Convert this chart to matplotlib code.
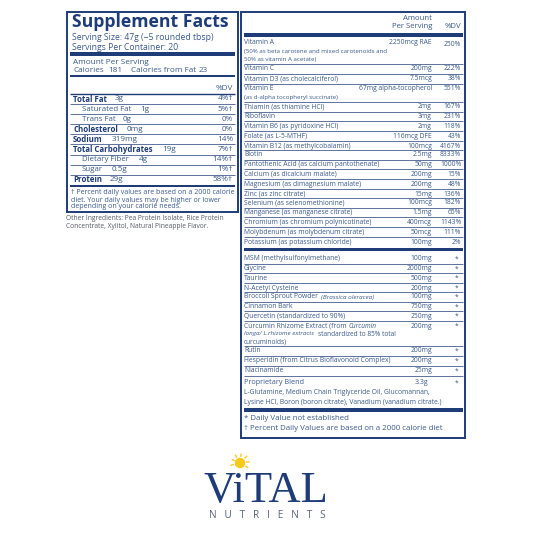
import matplotlib
matplotlib.use("Agg")
import matplotlib.pyplot as plt
import numpy as np
from matplotlib.patches import Rectangle, Circle

NAVY = "#1d3c78"
TXT = "#3b5a8e"
FONT = ["Open Sans", "DejaVu Sans"]

# ---- left panel data ----
macro_names = ["Total Fat", "Saturated Fat", "Trans Fat", "Cholesterol", "Sodium",
               "Total Carbohydrates", "Dietary Fiber", "Sugar", "Protein"]
macro_amounts = ["3g", "1g", "0g", "0mg", "319mg", "19g", "4g", "0.5g", "29g"]
macro_dv = ["4%†", "5%†", "0%", "0%", "14%", "7%†", "14%†", "1%†", "58%†"]
macro_bold = [True, False, False, True, True, True, False, False, True]
macro_amount_x = [115, 140, 123, 127, 112, 162, 139, 112, 110]

# ---- right panel data ----
vit_names = ["Vitamin A", "Vitamin C", "Vitamin D3 (as cholecalciferol)", "Vitamin E",
             "Thiamin (as thiamine HCl)", "Riboflavin", "Vitamin B6 (as pyridoxine HCl)",
             "Folate (as L-5-MTHF)", "Vitamin B12 (as methylcobalamin)", "Biotin",
             "Pantothenic Acid (as calcium pantothenate)", "Calcium (as dicalcium malate)",
             "Magnesium (as dimagnesium malate)", "Zinc (as zinc citrate)",
             "Selenium (as selenomethionine)", "Manganese (as manganese citrate)",
             "Chromium (as chromium polynicotinate)", "Molybdenum (as molybdenum citrate)",
             "Potassium (as potassium chloride)"]
vit_sub = {0: ["(50% as beta carotene and mixed carotenoids and", "50% as vitamin A acetate)"],
           3: ["(as d-alpha tocopheryl succinate)"]}
vit_amounts = ["2250mcg RAE", "200mg", "7.5mcg", "67mg alpha-tocopherol", "2mg", "3mg", "2mg",
               "116mcg DFE", "100mcg", "2.5mg", "50mg", "200mg", "200mg", "15mg", "100mcg",
               "1.5mg", "400mcg", "50mcg", "100mg"]
vit_dv = ["250%", "222%", "38%", "551%", "167%", "231%", "118%", "43%", "4167%", "8333%",
          "1000%", "15%", "48%", "136%", "182%", "65%", "1143%", "111%", "2%"]
vit_y = [43, 69, 79, 89, 107, 117, 126, 136, 146, 155, 165, 174, 184, 194, 203, 213, 222, 232, 242]

other_names = ["MSM (methylsulfonylmethane)", "Glycine", "Taurine", "N-Acetyl Cysteine",
               "Broccoli Sprout Powder", "Cinnamon Bark", "Quercetin (standardized to 90%)",
               "Curcumin Rhizome Extract (from", "Rutin",
               "Hesperidin (from Citrus Bioflavonoid Complex)", "Niacinamide"]
other_amounts = ["100mg", "2000mg", "500mg", "200mg", "100mg", "750mg", "250mg", "200mg",
                 "200mg", "200mg", "25mg"]
other_y = [259, 269, 278, 288, 297, 307, 316, 326, 351, 361, 371]

fig = plt.figure(figsize=(5.33, 5.33), dpi=100)
ax = fig.add_axes([0, 0, 1, 1])
ax.set_xlim(0, 533)
ax.set_ylim(533, 0)
ax.axis("off")

def t(x, y, s, size=6.2, ha="left", bold=False, color=TXT, style="normal", **kw):
    ax.text(x, y, s, fontsize=size, ha=ha, va="center", color=color, family=FONT,
            fontweight="bold" if bold else "normal", fontstyle=style, **kw)

def hline(y, x0, x1, lw=0.6):
    ax.plot([x0, x1], [y, y], color=NAVY, lw=lw, solid_capstyle="butt")

def bar(y, x0, x1, h):
    ax.add_patch(Rectangle((x0, y - h / 2), x1 - x0, h, color=NAVY, lw=0))

# ---------- left box ----------
L0, L1 = 67, 238
ax.add_patch(Rectangle((L0, 12), L1 - L0, 200, fill=False, ec=NAVY, lw=1.4))
t(72, 22, "Supplement Facts", size=12.7, bold=True, color=NAVY)
t(72, 37, "Serving Size: 47g (~5 rounded tbsp)", size=6.2)
t(72, 47, "Servings Per Container: 20", size=6.2)
bar(54, 70, 235, 3.5)
t(73, 62, "Amount Per Serving", size=5.9)
t(73, 70, "Calories", size=5.9)
t(108, 70, "181", size=5.9)
t(131, 70, "Calories from Fat", size=5.9)
t(199, 70, "23", size=5.9)
bar(76, 70, 235, 2.5)
t(233, 88, "%DV", size=5.9, ha="right")
hline(94, 70, 235, lw=1.0)
for i, (n, a, d, b, ax_) in enumerate(zip(macro_names, macro_amounts, macro_dv,
                                           macro_bold, macro_amount_x)):
    y = 99 + i * 10.1
    x = 73 if b else 82
    t(x, y, n, size=5.7, bold=b, color=NAVY if b else TXT)
    t(ax_, y, a, size=5.9)
    t(233, y, d, size=5.9, ha="right")
    if i < len(macro_names) - 1:
        hline(y + 5, 70, 235, lw=0.5)
bar(186, 70, 235, 2.5)
t(71, 192, "† Percent daily values are based on a 2000 calorie", size=5.05)
t(71, 200, "diet. Your daily values may be higher or lower", size=5.05)
t(71, 207, "depending on your calorie needs.", size=5.05)
t(66, 218, "Other Ingredients: Pea Protein Isolate, Rice Protein", size=4.8, color="#555a66")
t(66, 227, "Concentrate, Xylitol, Natural Pineapple Flavor.", size=4.8, color="#555a66")

# ---------- right box ----------
R0, R1 = 241, 465
ax.add_patch(Rectangle((R0, 12), R1 - R0, 426, fill=False, ec=NAVY, lw=1.4))
AX, DX = 432, 461
t(AX, 19, "Amount", size=5.6, ha="right")
t(AX, 27, "Per Serving", size=5.6, ha="right")
t(DX, 27, "%DV", size=5.6, ha="right")
bar(35, 244, 463, 4)
for i, (n, a, d, y) in enumerate(zip(vit_names, vit_amounts, vit_dv, vit_y)):
    t(244, y, n, size=4.9)
    t(AX, y, a, size=4.9, ha="right")
    t(DX, y + (1 if i == 0 else 0), d, size=4.9, ha="right")
    for k, s in enumerate(vit_sub.get(i, [])):
        t(244, y + 9 + 7.5 * k, s, size=4.4)
    if i < len(vit_names) - 1:
        hline(vit_y[i + 1] - 5, 244, 463, lw=0.5)
bar(249, 244, 463, 3)
for i, (n, a, y) in enumerate(zip(other_names, other_amounts, other_y)):
    t(244, y, n, size=4.9)
    t(AX, y, a, size=4.9, ha="right")
    t(457, y, "*", size=4.9, ha="center")
    if i < len(other_names) - 1:
        hline(other_y[i + 1] - 5, 244, 463, lw=0.5)
t(321, 297, "(Brassica oleracea)", size=4.6, style="italic")
t(349, 326, "Curcumin", size=4.7, style="italic")
t(244, 334, "longa/ L.rhizome extracts", size=4.5, style="italic")
t(318, 334, "standardized to 85% total", size=4.7)
t(244, 342, "curcuminoids)", size=4.7)
hline(376, 244, 463, lw=0.5)
t(244, 383, "Proprietary Blend", size=5.2)
t(428, 383, "3.3g", size=5.0, ha="right")
t(457, 383, "*", size=4.9, ha="center")
t(244, 392, "L-Glutamine, Medium Chain Triglyceride Oil, Glucomannan,", size=4.9)
t(244, 402, "Lysine HCl, Boron (boron citrate), Vanadium (vanadium citrate.)", size=4.9)
bar(410, 244, 463, 3.5)
t(244, 419, "* Daily Value not established", size=5.7)
t(244, 429, "† Percent Daily Values are based on a 2000 calorie diet", size=5.7)

# ---------- logo ----------
ax.add_patch(Circle((240, 463), 4.5, color="#f7c91a"))
for dx, dy in [(-7, -3), (-4, -7), (1, -8), (6, -6), (8, -1), (-8, 2), (7, 4)]:
    ax.plot([240 + dx * 0.85, 240 + dx * 1.1], [463 + dy * 0.85, 463 + dy * 1.1],
            color="#f7c91a", lw=1.0)
ax.text(266, 502, "ViTAL", fontsize=32, ha="center", va="baseline", color=NAVY,
        family=["Liberation Serif", "DejaVu Serif"])
ax.text(267, 515, "N   U   T   R   I   E   N   T   S", fontsize=7.2, ha="center",
        va="center", color="#56647e", family=FONT)
fig.savefig("out.png", dpi=100)
